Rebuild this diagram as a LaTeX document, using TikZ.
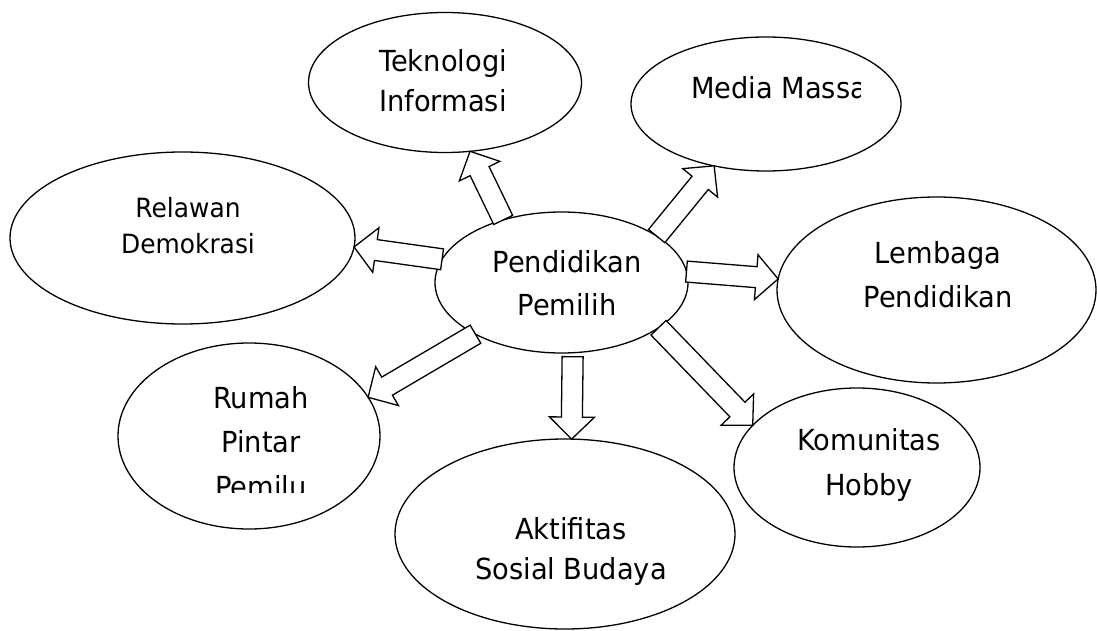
\documentclass[tikz,border=0pt]{standalone}
\usepackage{fontspec}
\setmainfont[FakeStretch=0.94]{DejaVu Sans}
\usetikzlibrary{shapes.geometric,calc}

\tikzset{
  oval/.style={draw, ellipse, line width=1.3pt, inner sep=0pt, outer sep=0pt},
  lbl/.style={anchor=base, inner sep=0pt, font=\fontsize{29}{35}\selectfont},
  smalllbl/.style={anchor=base, inner sep=0pt, font=\fontsize{26.5}{32}\selectfont},
  blockarrow/.style={draw, fill=white, line width=1.3pt, line join=miter},
}

\newcommand\blockarr[2]{%
  \coordinate (ba-h) at ($(#2)!22pt!(#1)$);
  \draw[blockarrow]
    ($(#1)!10.5pt!90:(#2)$) -- ($(ba-h)!10.5pt!90:(#2)$) --
    ($(ba-h)!22.5pt!90:(#2)$) -- (#2) --
    ($(ba-h)!22.5pt!-90:(#2)$) -- ($(ba-h)!10.5pt!-90:(#2)$) --
    ($(#1)!10.5pt!-90:(#2)$) -- cycle;
}

\begin{document}
\begin{tikzpicture}[x=1pt, y=-1pt]
  \useasboundingbox (0,0) rectangle (1097,631);

  % ellipses
  \node[oval, minimum width=253pt, minimum height=141pt] (pp)  at (561.5,282.5) {};
  \node[oval, minimum width=273pt, minimum height=140pt] (tek) at (445,82.5) {};
  \node[oval, minimum width=270pt, minimum height=134pt] (med) at (766,104) {};
  \node[oval, minimum width=345pt, minimum height=172pt] (rel) at (182.5,238) {};
  \node[oval, minimum width=319pt, minimum height=186pt] (lem) at (936.5,290) {};
  \node[oval, minimum width=246pt, minimum height=159pt] (kom) at (857,467.5) {};
  \node[oval, minimum width=340pt, minimum height=190pt] (akt) at (565,534) {};
  \node[oval, minimum width=262pt, minimum height=186pt] (rum) at (249,436) {};

  % texts
  \node[lbl] (pp1) at (567,272) {Pendidikan};
  \node[lbl] (pp2) at (567,315) {Pemilih};
  \node[lbl] (tek1) at (443,72) {Teknologi};
  \node[lbl] (tek2) at (443,112) {Informasi};
  \begin{scope}
    \clip (600,50) rectangle (860,130);
    \node[lbl, anchor=base west] (med1) at (691,99) {Media Massa};
  \end{scope}
  \node[smalllbl] (rel1) at (188,217) {Relawan};
  \node[smalllbl] (rel2) at (188,253) {Demokrasi};
  \node[lbl] (lem1) at (938,263) {Lembaga};
  \node[lbl] (lem2) at (938,307) {Pendidikan};
  \node[lbl] (kom1) at (869,450) {Komunitas};
  \node[lbl] (kom2) at (869,495) {Hobby};
  \node[lbl] (akt1) at (571,539) {Aktifitas};
  \node[lbl] (akt2) at (571,579) {Sosial Budaya};
  \node[lbl] (rum1) at (261,408) {Rumah};
  \node[lbl] (rum2) at (261,452) {Pintar};
  \begin{scope}
    \clip (150,460) rectangle (380,492);
    \node[lbl] (rum3) at (261,497) {Pemilu};
  \end{scope}

  % block arrows
  \blockarr{pp.133}{tek.-70}
  \blockarr{pp.26}{med.230}
  \blockarr{pp.5}{lem.176}
  \blockarr{pp.-25}{kom.158}
  \coordinate (a5) at ($(pp.-81)+(0,4)$);
  \blockarr{a5}{akt.86}
  \blockarr{pp.211}{rum.18}
  \blockarr{pp.169}{rel.-3}
\end{tikzpicture}
\end{document}
